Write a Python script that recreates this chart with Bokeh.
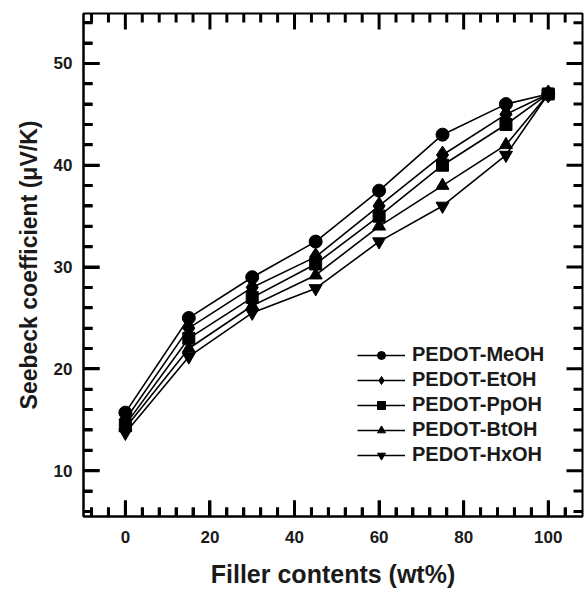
from bokeh.plotting import figure
from bokeh.models import Range1d, Legend, LegendItem, FixedTicker
from bokeh.embed import file_html
from bokeh.resources import INLINE

filler = [0, 15, 30, 45, 60, 75, 90, 100]
meoh = [15.7, 25.0, 29.0, 32.5, 37.5, 43.0, 46.0, 47.0]
etoh = [15.0, 24.0, 28.0, 31.0, 36.0, 41.0, 45.0, 47.0]
ppoh = [14.5, 23.0, 27.0, 30.3, 35.0, 40.0, 44.0, 47.0]
btoh = [14.2, 22.0, 26.2, 29.2, 34.0, 38.0, 42.0, 47.0]
hxoh = [13.7, 21.2, 25.5, 27.9, 32.5, 36.0, 41.0, 47.0]
names = ["PEDOT-MeOH", "PEDOT-EtOH", "PEDOT-PpOH", "PEDOT-BtOH", "PEDOT-HxOH"]
markers = ["circle", "diamond", "square", "triangle", "inverted_triangle"]
sizes = [13, 18, 12, 13, 13]
x_ticks = [0, 20, 40, 60, 80, 100]
x_minor = [t for t in range(-8, 108, 4) if t % 20 != 0]
y_ticks = [10, 20, 30, 40, 50]
y_minor = [t for t in range(6, 55, 2) if t % 10 != 0]

FONT = "Liberation Sans"
TXT = "#1a1a1a"
W, H = 584, 590
BL, BT, BB, BR = 83, 13, 74, 2

p = figure(width=W, height=H, output_backend="svg", toolbar_location=None,
           x_range=Range1d(-9.9, 108.1), y_range=Range1d(5.5, 54.9))
p.min_border_left = BL
p.min_border_top = BT
p.min_border_bottom = BB
p.min_border_right = BR
p.outline_line_color = "black"
p.outline_line_width = 2
p.xgrid.visible = False
p.ygrid.visible = False

p.xaxis.ticker = FixedTicker(ticks=x_ticks, minor_ticks=x_minor)
p.yaxis.ticker = FixedTicker(ticks=y_ticks, minor_ticks=y_minor)
for ax in (p.xaxis[0], p.yaxis[0]):
    ax.axis_line_color = "black"
    ax.axis_line_width = 2
    ax.major_label_text_font = FONT
    ax.major_label_text_font_style = "bold"
    ax.major_label_text_font_size = "17px"
    ax.major_label_text_color = TXT
    ax.axis_label_text_font = FONT
    ax.axis_label_text_font_style = "bold"
    ax.axis_label_text_color = TXT
    ax.major_tick_line_color = "black"
    ax.minor_tick_line_color = "black"
    ax.major_tick_line_width = 3
    ax.minor_tick_line_width = 3
    ax.major_tick_in = 16
    ax.major_tick_out = 0
    ax.minor_tick_in = 9
    ax.minor_tick_out = 0
p.xaxis.major_label_standoff = 14
p.yaxis.major_label_standoff = 11
p.xaxis.axis_label = "Filler contents (wt%)"
p.yaxis.axis_label = "Seebeck coefficient (\u03bcV/K)"
p.xaxis.axis_label_text_font_size = "25px"
p.yaxis.axis_label_text_font_size = "23px"
p.xaxis.axis_label_standoff = 14
p.yaxis.axis_label_standoff = 9

# inward ticks on all four sides, as short lines lying just inside the frame
x0, x1 = p.x_range.start, p.x_range.end
y0, y1 = p.y_range.start, p.y_range.end
dxp = (x1 - x0) / (W - BL - BR)
dyp = (y1 - y0) / (H - BT - BB)
xs, ys = [], []
for ticks, ln in ((x_ticks, 16), (x_minor, 9)):
    for t in ticks:
        xs.append([t, t]); ys.append([y0, y0 + ln * dyp])
        xs.append([t, t]); ys.append([y1, y1 - ln * dyp])
for ticks, ln in ((y_ticks, 16), (y_minor, 9)):
    for t in ticks:
        xs.append([x0, x0 + ln * dxp]); ys.append([t, t])
        xs.append([x1, x1 - ln * dxp]); ys.append([t, t])
p.multi_line(xs, ys, line_color="black", line_width=3)

items = []
for yv, name, mk, sz in zip([meoh, etoh, ppoh, btoh, hxoh], names, markers, sizes):
    r1 = p.line(filler, yv, line_color="black", line_width=1.6)
    r2 = p.scatter(filler, yv, marker=mk, size=sz, fill_color="black", line_color="black")
    items.append(LegendItem(label=name, renderers=[r1, r2]))

leg = Legend(items=items, location=(274, 50), glyph_width=48, glyph_height=20,
             label_height=20, spacing=2, padding=4, margin=0,
             label_text_font=FONT, label_text_font_style="bold",
             label_text_font_size="20px", label_text_color=TXT,
             border_line_color=None, background_fill_alpha=0, label_standoff=7)
p.add_layout(leg)

open("out.html", "w").write(file_html(p, INLINE))
